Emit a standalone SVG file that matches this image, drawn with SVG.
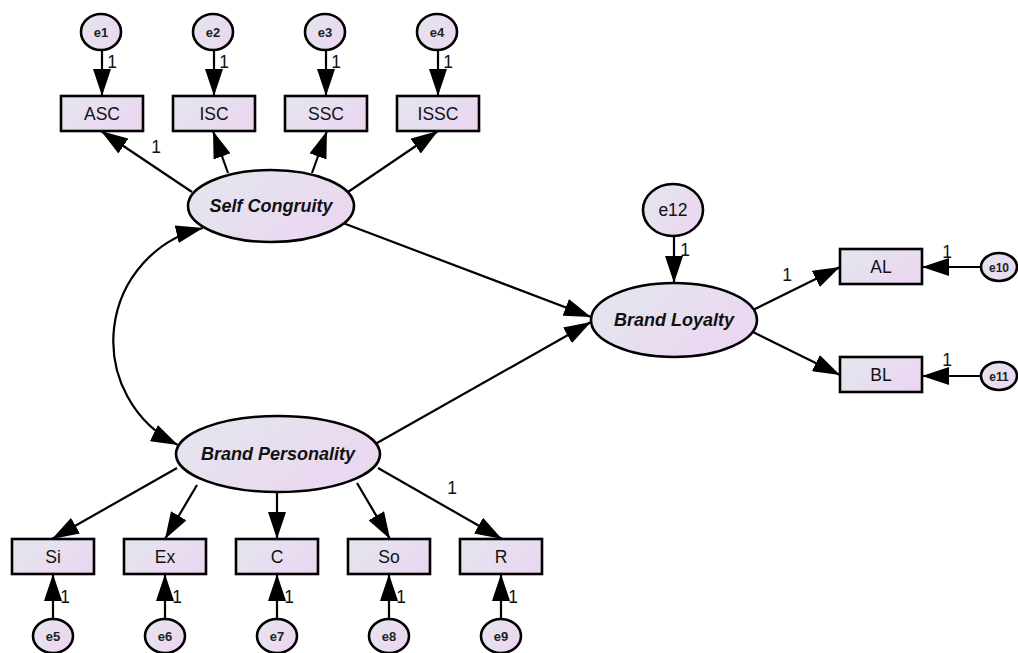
<svg xmlns="http://www.w3.org/2000/svg" width="1018" height="653" viewBox="0 0 1018 653">
<defs>
<linearGradient id="g" x1="0" y1="0.2" x2="1" y2="0.8">
<stop offset="0" stop-color="#e3e6ee"/>
<stop offset="1" stop-color="#ecd5f1"/>
</linearGradient>
<marker id="a" markerUnits="userSpaceOnUse" viewBox="0 0 27 18" markerWidth="27" markerHeight="18" refX="27" refY="9" orient="auto">
<path d="M0,0 L27,9 L0,18 Z" fill="#000"/>
</marker>
<marker id="as" markerUnits="userSpaceOnUse" viewBox="0 0 27 18" markerWidth="27" markerHeight="18" refX="27" refY="9" orient="auto-start-reverse">
<path d="M0,0 L27,9 L0,18 Z" fill="#000"/>
</marker>
</defs>
<style>
.n{fill:url(#g);stroke:#000;stroke-width:2.6}
.c line,.c path{stroke:#000;stroke-width:2.2;fill:none;marker-end:url(#a)}
.t{font-family:"Liberation Sans",Arial,sans-serif;font-size:17.5px;text-anchor:middle;fill:#111}
.lv{font-family:"Liberation Sans",Arial,sans-serif;font-size:18px;font-weight:bold;font-style:italic;text-anchor:middle;fill:#111}
.s{font-family:"Liberation Sans",Arial,sans-serif;font-size:13px;font-weight:bold;text-anchor:middle;fill:#222}
.s2{font-family:"Liberation Sans",Arial,sans-serif;font-size:12px;font-weight:bold;text-anchor:middle;fill:#222}
.w{font-family:"Liberation Sans",Arial,sans-serif;font-size:17.5px;text-anchor:middle;fill:#111}
</style>
<rect width="1018" height="653" fill="#fff"/>
<g class="c" id="connectors">
<line x1="192" y1="192" x2="101" y2="131"/>
<line x1="228" y1="173" x2="213" y2="131"/>
<line x1="312" y1="173" x2="327" y2="131"/>
<line x1="348" y1="192" x2="438" y2="131"/>
<line x1="102" y1="50" x2="102" y2="96"/>
<line x1="214" y1="50" x2="214" y2="96"/>
<line x1="326" y1="50" x2="326" y2="96"/>
<line x1="438" y1="50" x2="438" y2="96"/>
<line x1="343" y1="223" x2="591" y2="317"/>
<line x1="377" y1="443" x2="591" y2="322"/>
<line x1="177" y1="468" x2="52" y2="539"/>
<line x1="197" y1="485" x2="165" y2="539"/>
<line x1="277" y1="492" x2="277" y2="539"/>
<line x1="357" y1="483" x2="390" y2="539"/>
<line x1="378" y1="468" x2="502" y2="539"/>
<line x1="53" y1="619" x2="53" y2="574"/>
<line x1="165" y1="619" x2="165" y2="574"/>
<line x1="277" y1="619" x2="277" y2="574"/>
<line x1="389" y1="619" x2="389" y2="574"/>
<line x1="501" y1="619" x2="501" y2="574"/>
<line x1="674" y1="236" x2="674" y2="283"/>
<line x1="753" y1="310" x2="840" y2="267"/>
<line x1="753" y1="332" x2="840" y2="375"/>
<line x1="981" y1="267" x2="922" y2="267"/>
<line x1="981" y1="376" x2="922" y2="376"/>
<path d="M203,228 A116,116 0 0 0 178,445" style="marker-start:url(#as)"/>
</g>
<g id="labels">
<text class="w" x="112" y="68">1</text>
<text class="w" x="224" y="68">1</text>
<text class="w" x="336" y="68">1</text>
<text class="w" x="448" y="68">1</text>
<text class="w" x="156" y="153">1</text>
<text class="w" x="685" y="256">1</text>
<text class="w" x="787" y="281">1</text>
<text class="w" x="947" y="258">1</text>
<text class="w" x="947" y="366">1</text>
<text class="w" x="452" y="494">1</text>
<text class="w" x="65" y="603">1</text>
<text class="w" x="177" y="603">1</text>
<text class="w" x="289" y="603">1</text>
<text class="w" x="401" y="603">1</text>
<text class="w" x="513" y="603">1</text>
</g>
<g id="e1"><ellipse class="n" cx="101" cy="32" rx="20" ry="18"/><text class="s" x="101" y="36.5">e1</text></g>
<g id="e2"><ellipse class="n" cx="213" cy="32" rx="20" ry="18"/><text class="s" x="213" y="36.5">e2</text></g>
<g id="e3"><ellipse class="n" cx="325" cy="32" rx="20" ry="18"/><text class="s" x="325" y="36.5">e3</text></g>
<g id="e4"><ellipse class="n" cx="437" cy="32" rx="20" ry="18"/><text class="s" x="437" y="36.5">e4</text></g>
<g id="ASC"><rect class="n" x="61" y="96" width="82" height="35"/><text class="t" x="102" y="120">ASC</text></g>
<g id="ISC"><rect class="n" x="173" y="96" width="82" height="35"/><text class="t" x="214" y="120">ISC</text></g>
<g id="SSC"><rect class="n" x="285" y="96" width="82" height="35"/><text class="t" x="326" y="120">SSC</text></g>
<g id="ISSC"><rect class="n" x="397" y="96" width="82" height="35"/><text class="t" x="438" y="120">ISSC</text></g>
<g id="SelfCongruity"><ellipse class="n" cx="271" cy="206" rx="83" ry="36"/><text class="lv" x="271" y="212">Self Congruity</text></g>
<g id="BrandPersonality"><ellipse class="n" cx="278" cy="454" rx="102" ry="38"/><text class="lv" x="278" y="460">Brand Personality</text></g>
<g id="BrandLoyalty"><ellipse class="n" cx="674" cy="320" rx="83" ry="37"/><text class="lv" x="674" y="326">Brand Loyalty</text></g>
<g id="e12"><ellipse class="n" cx="673" cy="210" rx="30" ry="26"/><text class="t" x="673" y="216">e12</text></g>
<g id="AL"><rect class="n" x="840" y="249" width="82" height="35"/><text class="t" x="881" y="273">AL</text></g>
<g id="BL"><rect class="n" x="840" y="357" width="82" height="35"/><text class="t" x="881" y="381">BL</text></g>
<g id="e10"><ellipse class="n" cx="999" cy="267" rx="18" ry="14"/><text class="s2" x="999" y="271.5">e10</text></g>
<g id="e11"><ellipse class="n" cx="999" cy="376" rx="18" ry="14"/><text class="s2" x="999" y="380.5">e11</text></g>
<g id="Si"><rect class="n" x="12" y="539" width="82" height="35"/><text class="t" x="53" y="563">Si</text></g>
<g id="Ex"><rect class="n" x="124" y="539" width="82" height="35"/><text class="t" x="165" y="563">Ex</text></g>
<g id="C"><rect class="n" x="236" y="539" width="82" height="35"/><text class="t" x="277" y="563">C</text></g>
<g id="So"><rect class="n" x="348" y="539" width="82" height="35"/><text class="t" x="389" y="563">So</text></g>
<g id="R"><rect class="n" x="460" y="539" width="82" height="35"/><text class="t" x="501" y="563">R</text></g>
<g id="e5"><ellipse class="n" cx="53" cy="636" rx="20" ry="17"/><text class="s" x="53" y="640.5">e5</text></g>
<g id="e6"><ellipse class="n" cx="165" cy="636" rx="20" ry="17"/><text class="s" x="165" y="640.5">e6</text></g>
<g id="e7"><ellipse class="n" cx="277" cy="636" rx="20" ry="17"/><text class="s" x="277" y="640.5">e7</text></g>
<g id="e8"><ellipse class="n" cx="389" cy="636" rx="20" ry="17"/><text class="s" x="389" y="640.5">e8</text></g>
<g id="e9"><ellipse class="n" cx="501" cy="636" rx="20" ry="17"/><text class="s" x="501" y="640.5">e9</text></g>
</svg>
